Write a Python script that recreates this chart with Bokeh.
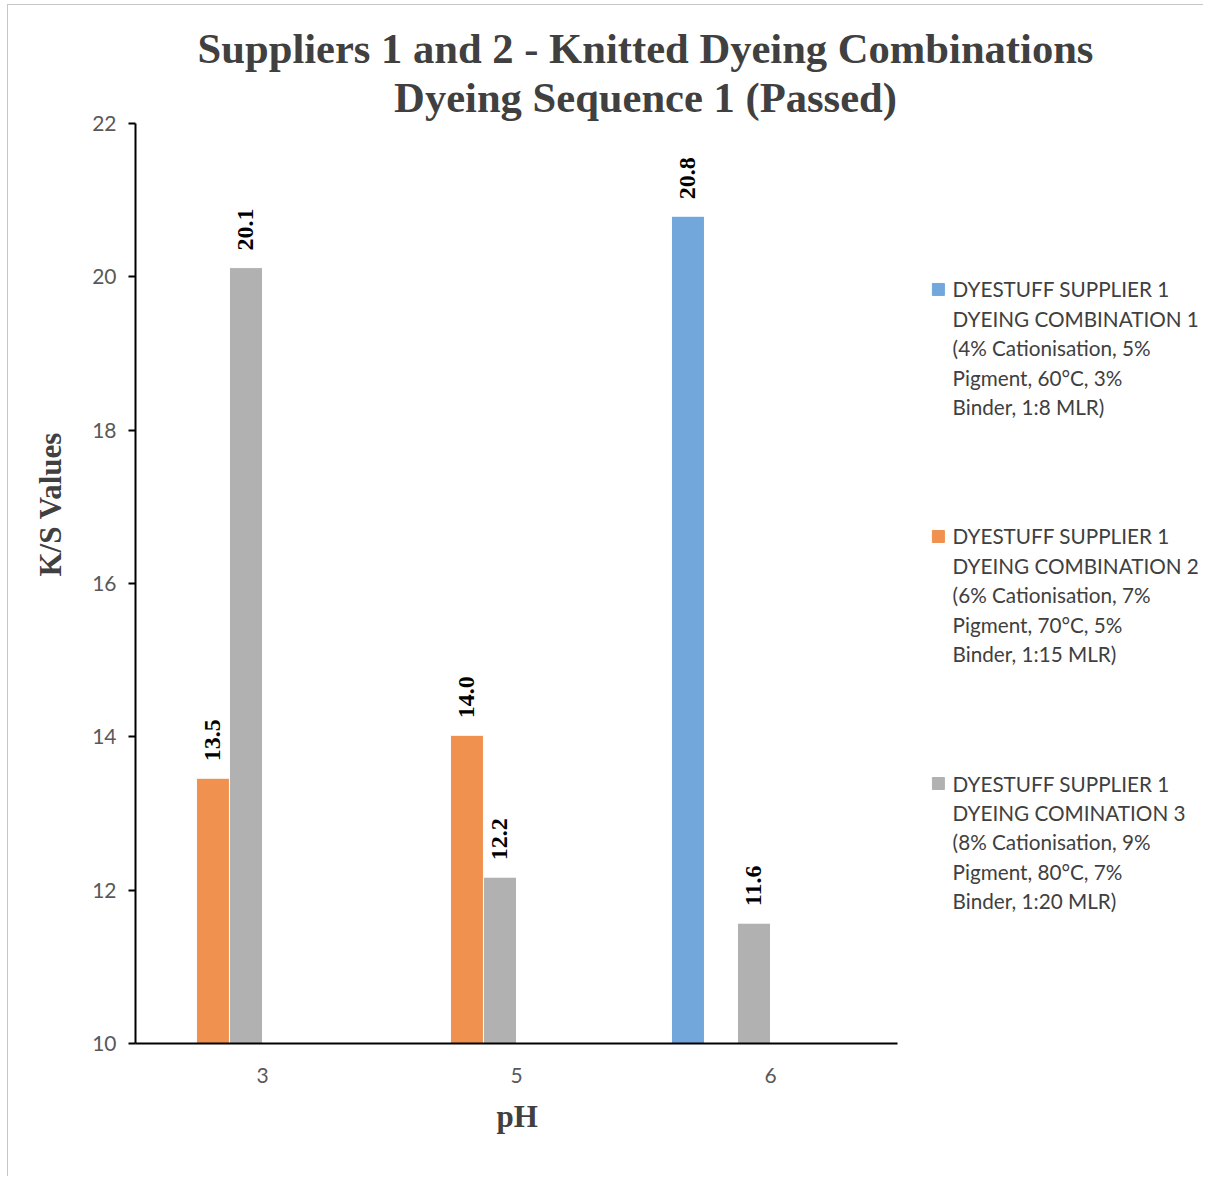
from bokeh.plotting import figure
from bokeh.models import Range1d, ColumnDataSource, FixedTicker, Title
from bokeh.transform import dodge
from bokeh.core.properties import value
from bokeh.embed import file_html
from bokeh.resources import INLINE
import math

# ---------------- data ----------------
ph = ["3", "5", "6"]
comb1 = [0.0, 0.0, 20.79]      # Dyestuff supplier 1, combination 1
comb2 = [13.46, 14.02, 0.0]    # Dyestuff supplier 1, combination 2
comb3 = [20.12, 12.17, 11.57]  # Dyestuff supplier 1, combination 3
hidden4 = [0.0, 0.0, 0.0]      # empty series (no legend entry)
hidden5 = [0.0, 0.0, 0.0]
hidden6 = [0.0, 0.0, 0.0]
y_ticks = [10, 12, 14, 16, 18, 20, 22]
y_min, y_max = 10, 22

title_lines = ["Suppliers 1 and 2 - Knitted Dyeing Combinations",
               "Dyeing Sequence 1 (Passed)"]
x_title = "pH"
y_title = "K/S Values"
legend_texts = [
    ["DYESTUFF SUPPLIER 1", "DYEING COMBINATION 1", "(4% Cationisation, 5%",
     "Pigment, 60\u00b0C, 3%", "Binder, 1:8 MLR)"],
    ["DYESTUFF SUPPLIER 1", "DYEING COMBINATION 2", "(6% Cationisation, 7%",
     "Pigment, 70\u00b0C, 5%", "Binder, 1:15 MLR)"],
    ["DYESTUFF SUPPLIER 1", "DYEING COMINATION 3", "(8% Cationisation, 9%",
     "Pigment, 80\u00b0C, 7%", "Binder, 1:20 MLR)"],
]
colors = ["#71a7db", "#f0914f", "#b1b1b1"]

series = [(comb1, colors[0]), (comb2, colors[1]), (comb3, colors[2]),
          (hidden4, colors[0]), (hidden5, colors[1]), (hidden6, colors[2])]

# ---------------- layout constants ----------------
bar_w = 0.13
n = len(series)
px_y = 76.67          # pixels per K/S unit
px_x = 254.0          # pixels per category
W, H = 1196, 1172
frame_left = 127
frame_bottom_px = 134
frame_h = H - frame_bottom_px
frame_w = W - frame_left
x_end = frame_w / px_x
y_end = y_min + frame_h / px_y

p = figure(x_range=Range1d(0, x_end), y_range=Range1d(y_min, y_end),
           width=W, height=H, output_backend="svg", toolbar_location=None,
           min_border_left=frame_left, min_border_right=0, min_border_top=0,
           min_border_bottom=frame_bottom_px)
p.margin = (4, 0, 0, 7)
p.styles = {"border-left": "1px solid #c6c6c6", "border-top": "1px solid #c6c6c6"}
p.outline_line_color = None
p.xgrid.grid_line_color = None
p.ygrid.grid_line_color = None
p.background_fill_color = "white"
p.border_fill_color = "white"

pos = [i + 0.5 for i in range(len(ph))]

for i, (vals, col) in enumerate(series):
    off = (i - n / 2 + 0.5) * bar_w
    keep = [k for k, v in enumerate(vals) if v > y_min]
    if not keep:
        continue
    src = ColumnDataSource(dict(pos=[pos[k] for k in keep], top=[vals[k] for k in keep],
                                lab=[f"{vals[k]:.1f}" for k in keep]))
    xs = dodge("pos", off)
    p.vbar(x=xs, top="top", bottom=y_min, width=bar_w, source=src,
           fill_color=col, line_color="white", line_width=1)
    p.text(x=xs, y="top", text="lab", source=src, angle=math.pi / 2,
           text_align="left", text_baseline="middle", y_offset=-17,
           text_font=value("Liberation Serif"), text_font_style="bold",
           text_font_size="24px", text_color="black")

# ---------------- axes ----------------
p.yaxis.ticker = FixedTicker(ticks=y_ticks)
p.yaxis.bounds = (y_min, y_max)
p.yaxis.major_tick_out = 7
p.yaxis.major_tick_in = 0
p.yaxis.minor_tick_line_color = None
p.yaxis.axis_line_color = "black"
p.yaxis.axis_line_width = 2
p.yaxis.major_tick_line_color = "black"
p.yaxis.major_tick_line_width = 2
p.yaxis.major_label_standoff = 12
p.yaxis.major_label_text_font = "Lato"
p.yaxis.major_label_text_font_size = "21px"
p.yaxis.major_label_text_color = "#595959"

p.xaxis.ticker = FixedTicker(ticks=pos)
p.xaxis.major_label_overrides = {pv: lab for pv, lab in zip(pos, ph)}
p.xaxis.bounds = (0, len(ph))
p.xaxis.major_tick_line_color = None
p.xaxis.minor_tick_line_color = None
p.xaxis.major_tick_out = 0
p.xaxis.axis_line_color = "black"
p.xaxis.axis_line_width = 2
p.xaxis.major_label_standoff = 24
p.xaxis.major_label_text_font = "Lato"
p.xaxis.major_label_text_font_size = "21px"
p.xaxis.major_label_text_color = "#595959"

# axis titles as side-panel titles (positioned along the plot area)
p.add_layout(Title(text=x_title, align="left", offset=361, vertical_align="middle",
                   standoff=25, text_font="Liberation Serif", text_font_style="bold",
                   text_font_size="31px", text_color="#404040"), "below")
p.add_layout(Title(text=y_title, align="left", offset=467, vertical_align="middle",
                   standoff=41, text_font="Liberation Serif", text_font_style="bold",
                   text_font_size="31px", text_color="#404040"), "left")

# ---------------- chart title (inside the canvas, above the plot area) ----------------
tsrc = ColumnDataSource(dict(x=[2.008] * len(title_lines),
                             y=[22.978 - k * 0.639 for k in range(len(title_lines))],
                             t=title_lines))
p.text(x="x", y="y", text="t", source=tsrc, text_align="center", text_baseline="middle",
       text_font=value("Liberation Serif"), text_font_style="bold",
       text_font_size="42.6px", text_color="#404040")

# ---------------- legend (multi-line entries) ----------------
lx, ly, lg = [], [], []
tx, ty, tt = [], [], []
for j, lines in enumerate(legend_texts):
    y0 = 19.835 - j * 3.222
    lx.append(3.161); ly.append(y0); lg.append(colors[j])
    for k, line in enumerate(lines):
        tx.append(3.217); ty.append(y0 - k * 0.384); tt.append(line)
p.scatter(x=lx, y=ly, marker="square", size=12, fill_color=lg, line_color=lg)
p.text(x=tx, y=ty, text=tt, text_align="left", text_baseline="middle",
       text_font=value("Lato"), text_font_size="20.7px", text_color="#404040")

open("out.html", "w").write(file_html(p, INLINE))
